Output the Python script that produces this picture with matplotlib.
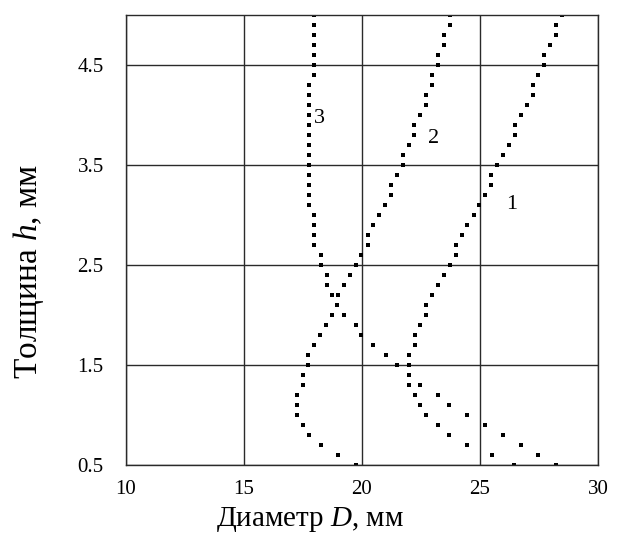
from __future__ import annotations

import matplotlib

matplotlib.use("Agg")
import matplotlib.pyplot as plt

# thickness h (mm), sampled top to bottom
thickness = [
    5.0, 4.9, 4.8, 4.7, 4.6, 4.5, 4.4, 4.3, 4.2, 4.1,
    4.0, 3.9, 3.8, 3.7, 3.6, 3.5, 3.4, 3.3, 3.2, 3.1,
    3.0, 2.9, 2.8, 2.7, 2.6, 2.5, 2.4, 2.3, 2.2, 2.1,
    2.0, 1.9, 1.8, 1.7, 1.6, 1.5, 1.4, 1.3, 1.2, 1.1,
    1.0, 0.9, 0.8, 0.7, 0.6, 0.5,
]

# diameter D (mm) for each curve
diam_1 = [
    28.46, 28.23, 28.23, 27.98, 27.72, 27.72, 27.47, 27.23, 27.23, 26.97,
    26.74, 26.48, 26.48, 26.23, 25.97, 25.72, 25.48, 25.48, 25.22, 24.97,
    24.73, 24.47, 24.24, 23.97, 23.97, 23.71, 23.49, 23.20, 22.98, 22.73,
    22.73, 22.47, 22.25, 22.25, 21.98, 21.98, 21.98, 21.98, 22.25, 22.47,
    22.73, 23.20, 23.70, 24.46, 25.50, 26.45,
]
diam_2 = [
    23.73, 23.73, 23.49, 23.49, 23.24, 23.24, 22.98, 22.98, 22.73, 22.73,
    22.47, 22.22, 22.22, 21.98, 21.72, 21.72, 21.48, 21.23, 21.23, 20.97,
    20.73, 20.48, 20.24, 20.24, 19.96, 19.73, 19.49, 19.22, 18.98, 18.95,
    18.74, 18.49, 18.23, 17.98, 17.73, 17.73, 17.48, 17.48, 17.23, 17.23,
    17.23, 17.48, 17.75, 18.25, 18.98, 19.75,
]
diam_3 = [
    17.95, 17.95, 17.95, 17.95, 17.95, 17.95, 17.95, 17.74, 17.74, 17.74,
    17.74, 17.74, 17.74, 17.74, 17.74, 17.74, 17.74, 17.74, 17.74, 17.74,
    17.98, 17.98, 17.98, 17.98, 18.25, 18.25, 18.50, 18.50, 18.73, 18.95,
    19.22, 19.73, 19.96, 20.48, 21.00, 21.47, 21.98, 22.47, 23.20, 23.70,
    24.46, 25.20, 25.96, 26.72, 27.47, 28.20,
]

curve_labels = ["1", "2", "3"]
label_pos = [(26.34, 3.11), (23.02, 3.77), (18.19, 3.97)]

x_ticks = [10, 15, 20, 25, 30]
y_ticks = [0.5, 1.5, 2.5, 3.5, 4.5]

plt.rcParams["font.family"] = ["Liberation Serif", "DejaVu Serif"]
plt.rcParams["mathtext.fontset"] = "custom"
plt.rcParams["mathtext.rm"] = "Liberation Serif"
plt.rcParams["mathtext.it"] = "Liberation Serif:italic"

fig = plt.figure(figsize=(6.23, 5.38), dpi=100)
ax = fig.add_axes([0.2022, 0.1357, 0.7577, 0.8364])

line_col = "#2a2a2a"
for d in (diam_1, diam_2, diam_3):
    ax.plot(d, thickness, linestyle="none", marker="s", markersize=2.3,
            color="black", markeredgewidth=0)

for text, (x, y) in zip(curve_labels, label_pos):
    ax.text(x, y, text, fontsize=16, ha="center", va="center")

ax.set_xlim(10, 30)
ax.set_ylim(0.5, 5.0)
ax.set_xticks(x_ticks)
ax.set_xticklabels([str(v) for v in x_ticks])
ax.set_yticks(y_ticks)
ax.set_yticklabels([f"{v:.1f}" for v in y_ticks])
ax.tick_params(axis="both", length=0, labelsize=15)
ax.tick_params(axis="x", pad=11)
ax.tick_params(axis="y", pad=16)
ax.grid(True, color=line_col, linewidth=1.0)
ax.set_axisbelow(True)
for sp in ax.spines.values():
    sp.set_color(line_col)
    sp.set_linewidth(1.0)

ax.set_xlabel(r"Диаметр $D$, мм", fontsize=21)
ax.xaxis.set_label_coords(0.39, -0.09)
ax.set_ylabel(r"Толщина $h$, мм", fontsize=24)
ax.yaxis.set_label_coords(-0.17, 0.43)

fig.savefig("out.png", dpi=100)
plt.close(fig)
